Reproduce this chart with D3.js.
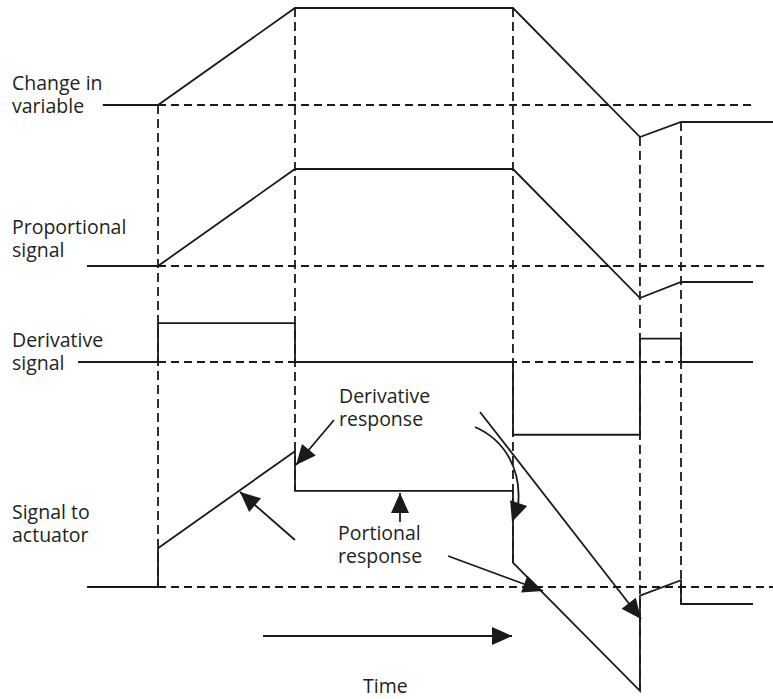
<!DOCTYPE html>
<html>
<head>
<meta charset="utf-8">
<script src="https://cdn.jsdelivr.net/npm/d3@7"></script>
<style>
body { margin: 0; background: #fff; }
text { font-family: "Open Sans", sans-serif; font-size: 19.5px; fill: #231f20; }
</style>
</head>
<body>
<svg id="chart" width="773" height="699"></svg>
<script>
// times where something happens (vertical dashed guides)
const eventTimes = [20.44, 38.16, 66.36, 82.79, 88.10];

// each signal as [time, value], value 0 = that row's baseline
const changeInVariable = [[13.3, 0], [20.44, 0], [38.16, 1], [66.36, 1], [82.79, -0.33], [88.10, -0.175], [100, -0.175]];
const proportionalSignal = [[11.25, 0], [20.44, 0], [38.16, 1], [66.36, 1], [82.79, -0.33], [88.10, -0.165], [97.41, -0.165]];
const derivativeSignal = [[10.1, 0], [20.44, 0], [20.44, 0.4], [38.16, 0.4], [38.16, 0], [66.36, 0], [66.36, -0.75],
    [82.79, -0.75], [82.79, 0.24], [88.10, 0.24], [88.10, 0], [97.41, 0]];
const actuatorSignal = [[11.25, 0], [20.44, 0], [20.44, 0.4], [38.16, 1.4], [38.16, 0.99], [66.36, 0.99], [66.36, 0.25],
    [82.79, -1.07], [82.79, -0.09], [88.10, 0.07], [88.10, -0.175], [97.41, -0.175]];

const signals = [changeInVariable, proportionalSignal, derivativeSignal, actuatorSignal];
const rowLabels = [["Change in", "variable"], ["Proportional", "signal"], ["Derivative", "signal"], ["Signal to", "actuator"]];
// where each dashed reference line stops
const baselineEnd = [97.41, 99.0, 88.10, 100];

// layout
const rowBase = [105, 266, 362, 587];
const labelY = [90, 234, 347, 519];
const leading = 23;

let svg = d3.select('#chart');
let x = d3.scaleLinear().domain([0, 100]).range([0, 773]);
let amp = d3.scaleLinear().domain([0, 1]).range([0, -97]);

const line = (row) => d3.line()
    .x(d => x(d[0]))
    .y(d => rowBase[row] + amp(d[1]));

//dashed baselines
signals.forEach((s, i) => {
    svg.append('line')
        .attr('x1', x(eventTimes[0])).attr('x2', x(baselineEnd[i]))
        .attr('y1', rowBase[i]).attr('y2', rowBase[i])
        .attr('stroke', '#1a1a1a').attr('stroke-width', 1.8)
        .attr('stroke-dasharray', '8,5');
});

// dashed vertical guides, from top signal down to actuator signal
eventTimes.forEach(t => {
    let top = d3.max(changeInVariable.filter(d => d[0] === t), d => d[1]);
    let bot = d3.min(actuatorSignal.filter(d => d[0] === t), d => d[1]);
    svg.append('line')
        .attr('x1', x(t)).attr('x2', x(t))
        .attr('y1', rowBase[0] + amp(top)).attr('y2', rowBase[3] + amp(bot))
        .attr('stroke', '#1a1a1a').attr('stroke-width', 1.8)
        .attr('stroke-dasharray', '9,5');
});

// signal traces
signals.forEach((s, i) => {
    svg.append('path')
        .attr('d', line(i)(s))
        .attr('fill', 'none')
        .attr('stroke', '#1a1a1a')
        .attr('stroke-width', 1.8);
});

// two-line text block as one text element
function block(px, py, lines) {
    let t = svg.append('text').attr('x', px).attr('y', py);
    lines.forEach((s, j) => {
        t.append('tspan').attr('x', px).attr('dy', j === 0 ? 0 : leading).text(s);
    });
}

// row labels
rowLabels.forEach((lines, i) => block(12, labelY[i], lines));

// annotations
const arrows = [
    {from: [334, 420], to: [296, 465]},
    {from: [295, 540], to: [240, 492]},
    {from: [400, 522], to: [400, 493]},
    {from: [448, 556], to: [543, 591]},
    {from: [480, 412], to: [641, 619]},
    {from: [263, 636], to: [512, 636]}
];

function arrowHead(from, to, len, hw) {
    let dx = to[0] - from[0], dy = to[1] - from[1];
    let l = Math.hypot(dx, dy);
    let ux = dx / l, uy = dy / l;
    let bx = to[0] - ux * len, by = to[1] - uy * len;
    return [[to[0], to[1]], [bx - uy * hw, by + ux * hw], [bx + uy * hw, by - ux * hw]];
}

arrows.forEach(a => {
    svg.append('line')
        .attr('x1', a.from[0]).attr('y1', a.from[1])
        .attr('x2', a.to[0]).attr('y2', a.to[1])
        .attr('stroke', '#1a1a1a').attr('stroke-width', 1.8);
    svg.append('polygon')
        .attr('points', arrowHead(a.from, a.to, 20, 9).join(' '))
        .attr('fill', '#1a1a1a');
});

// curved derivative response arrow
svg.append('path')
    .attr('d', 'M475,427 C505,440 522,470 518,506')
    .attr('fill', 'none').attr('stroke', '#1a1a1a').attr('stroke-width', 1.8);
svg.append('polygon')
    .attr('points', arrowHead([519, 502], [512, 522], 20, 9).join(' '))
    .attr('fill', '#1a1a1a');

block(339, 403, ['Derivative', 'response']);
block(338, 540, ['Portional', 'response']);
block(363, 693, ['Time']);
</script>
</body>
</html>
